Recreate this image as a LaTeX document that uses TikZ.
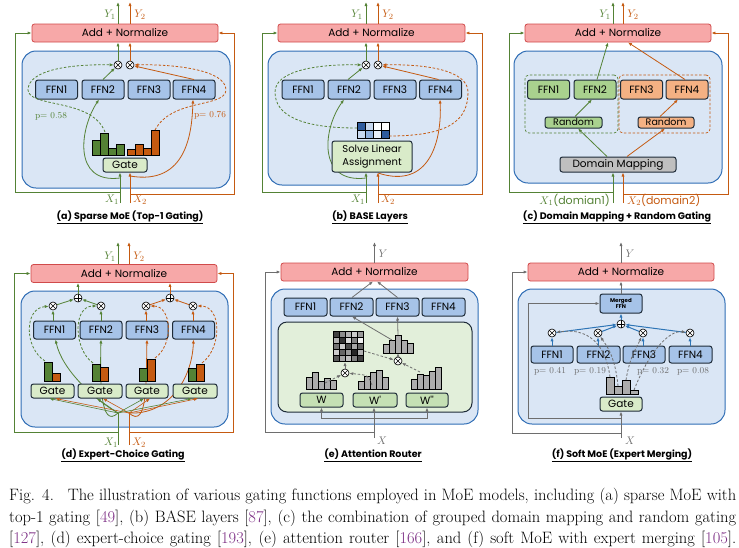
\documentclass[tikz,border=0pt]{standalone}
\usepackage{fontspec}
\newfontfamily\diafont{Poppins}
\usetikzlibrary{arrows.meta}
\definecolor{mgreen}{HTML}{548235}
\definecolor{morange}{HTML}{C55A11}
\definecolor{addpink}{HTML}{F7A8A8}
\definecolor{addred}{HTML}{D04A4A}
\definecolor{moefill}{HTML}{DAE6F5}
\definecolor{moeblue}{HTML}{2F6DB5}
\definecolor{ffnblue}{HTML}{A6C3E8}
\definecolor{boxedge}{HTML}{1E2B38}
\definecolor{gatefill}{HTML}{D9EBC9}
\definecolor{rndgreen}{HTML}{A9D18E}
\definecolor{rndorange}{HTML}{F4B183}
\definecolor{domgray}{HTML}{BFBFBF}
\definecolor{attfill}{HTML}{E2EFDA}
\definecolor{wfill}{HTML}{C5E0B4}
\definecolor{arrgray}{HTML}{6E6E6E}
\definecolor{mblue}{HTML}{2E75B6}
\definecolor{citepurple}{HTML}{7B2C83}
\definecolor{bgdark}{HTML}{2F5C9E}
\definecolor{bgmid}{HTML}{8FB0DC}
\definecolor{bglight}{HTML}{C8D9EF}
\tikzset{
  arr/.style={-{Latex[length=4pt,width=3.2pt]}, line width=0.8pt},
  darr/.style={arr, dash pattern=on 2.5pt off 1.8pt},
  garr/.style={arr, arrgray},
  gdarr/.style={darr, arrgray},
  barr/.style={arr, mblue, line width=1pt},
  addnorm/.style={draw=addred, fill=addpink, rounded corners=2.5pt, line width=0.8pt, minimum height=18, inner sep=0pt},
  moebox/.style={draw=moeblue, fill=moefill, rounded corners=14pt, line width=1pt, inner sep=0pt},
  attbox/.style={draw=boxedge, fill=attfill, rounded corners=9pt, line width=1pt, inner sep=0pt},
  grpbox/.style={dash pattern=on 2.5pt off 1.8pt, rounded corners=4pt, line width=0.7pt, inner sep=0pt},
  ffn/.style={draw=boxedge, fill=ffnblue, rounded corners=2.5pt, line width=1pt, minimum width=42, minimum height=19, inner sep=0pt},
  gatebox/.style={draw=boxedge, fill=gatefill, rounded corners=2.5pt, line width=1pt, minimum width=43, minimum height=14, inner sep=0pt},
  wbox/.style={gatebox, fill=wfill},
  prod/.style={circle, draw=black, fill=white, line width=0.6pt, minimum size=8, inner sep=0pt,
    path picture={\draw[line width=0.5pt] (path picture bounding box.north west) -- (path picture bounding box.south east)
      (path picture bounding box.north east) -- (path picture bounding box.south west);}},
  plus/.style={circle, draw=black, fill=white, line width=0.6pt, minimum size=8, inner sep=0pt,
    path picture={\draw[line width=0.5pt] (path picture bounding box.north) -- (path picture bounding box.south)
      (path picture bounding box.west) -- (path picture bounding box.east);}},
  bar/.style={draw=black, line width=0.6pt},
  lab/.style={font=\diafont\fontsize{11}{12}\selectfont, inner sep=0pt},
  plab/.style={font=\rmfamily\fontsize{9}{10}\selectfont, inner sep=0pt},
  title/.style={font=\diafont\bfseries\fontsize{9.5}{11}\selectfont},
  capt/.style={font=\rmfamily\fontsize{16.5}{20}\selectfont, anchor=base west, inner sep=0pt},
}
\newcommand{\refno}[1]{[\textcolor{citepurple}{#1}]}
\begin{document}
\begin{tikzpicture}[x=1pt,y=-1pt,font=\diafont\fontsize{10.5}{12}\selectfont]
\useasboundingbox (0,0) rectangle (739,547);

% (a) sparse MoE
\node[moebox, minimum width=208, minimum height=137] (amoe) at (126,119.5) {};
\node[addnorm, minimum width=186] (aadd) at (125,33) {Add + Normalize};
\node[ffn] (af1) at (56.5,89.5) {FFN1};
\node[ffn] (af2) at (103,89.5) {FFN2};
\node[ffn] (af3) at (149,89.5) {FFN3};
\node[ffn] (af4) at (194,89.5) {FFN4};
\node[prod] (am1) at (118,65) {};
\node[prod] (am2) at (130,65) {};
\draw[arr, mgreen] (120,178) .. controls (72,184) and (80,128) .. ([xshift=-4pt]af2.south);
\draw[arr, morange] (130,176) .. controls (188,186) and (192,130) .. ([xshift=-1pt]af4.south);
\node[gatebox, minimum width=44] (agate) at (125,165) {Gate};
\foreach \h [count=\i from 0] in {15,22,7,11}
  \draw[bar, fill=mgreen] ({92+8*\i},155) rectangle ++(8,-\h);
\foreach \h [count=\i from 0] in {6,11,7,25}
  \draw[bar, fill=morange] ({127+8*\i},155) rectangle ++(8,-\h);
\coordinate (ax1) at (120,203);
\coordinate (ax2) at (130,203);
\coordinate (ay1) at (118,2);
\coordinate (ay2) at (130,2);
\draw[arr, mgreen] (ax1) -- (ax1 |- agate.south);
\draw[arr, morange] (ax2) -- (ax2 |- agate.south);
\draw[arr, mgreen] (120,192) -- (15,192) |- (aadd.west);
\draw[arr, morange] (130,194) -- (234,194) |- (aadd.east);
\draw[arr, mgreen] (af2.north) -- (am1);
\draw[arr, morange] (af4.north) -- (am2);
\draw[arr, mgreen] (am1) -- (am1 |- aadd.south);
\draw[arr, morange] (am2) -- (am2 |- aadd.south);
\draw[arr, mgreen] (aadd.north -| ay1) -- (ay1);
\draw[arr, morange] (aadd.north -| ay2) -- (ay2);
\draw[darr, mgreen] (105,132) .. controls (92,98) and (29,108) .. (28,90) .. controls (28,70) and (70,64) .. (am1);
\draw[darr, morange] (155,130) .. controls (172,98) and (225,108) .. (226,90) .. controls (226,70) and (175,64) .. (am2);
\node[plab, mgreen] (ap1) at (51,116) {p= 0.58};
\node[plab, morange] (ap2) at (210,115) {p= 0.76};
\node[lab, mgreen] (ay1l) at (110,15) {$Y_1$};
\node[lab, morange] (ay2l) at (140,15) {$Y_2$};
\node[lab, mgreen] (ax1l) at (112,200) {$X_1$};
\node[lab, morange] (ax2l) at (140,200) {$X_2$};
\node[title] (atitle) at (130,217) {\underline{(a) Sparse MoE (Top-1 Gating)}};

% (b) BASE layers
\node[moebox, minimum width=209, minimum height=134] (bmoe) at (372.5,118) {};
\node[addnorm, minimum width=187] (badd) at (371.5,33) {Add + Normalize};
\node[ffn] (bf1) at (303,89.5) {FFN1};
\node[ffn] (bf2) at (349,89.5) {FFN2};
\node[ffn] (bf3) at (395,89.5) {FFN3};
\node[ffn] (bf4) at (440.5,89.5) {FFN4};
\node[prod] (bm1) at (366,65) {};
\node[prod] (bm2) at (378,65) {};
\draw[arr, mgreen] (366,178) .. controls (318,184) and (322,130) .. ([xshift=-5pt]bf2.south);
\draw[arr, morange] (378,173) .. controls (430,190) and (442,140) .. ([xshift=-0.5pt]bf4.south);
\node[gatebox, minimum width=80, minimum height=31, align=center, font=\diafont\fontsize{10}{12.5}\selectfont] (bsolve) at (372,156.5) {Solve Linear\\Assignment};
\foreach \c [count=\i from 0] in {bgdark,bglight,white,white}
  \draw[fill=\c, line width=0.4pt] ({357+8*\i},122) rectangle ++(8,8);
\foreach \c [count=\i from 0] in {bglight,bgmid,bglight!40,bgdark}
  \draw[fill=\c, line width=0.4pt] ({357+8*\i},130) rectangle ++(8,8);
\coordinate (bx1) at (366,203);
\coordinate (bx2) at (378,203);
\coordinate (by1) at (366,2);
\coordinate (by2) at (378,2);
\draw[arr, mgreen] (bx1) -- (bx1 |- bsolve.south);
\draw[arr, morange] (bx2) -- (bx2 |- bsolve.south);
\draw[arr, mgreen] (366,192) -- (262,192) |- (badd.west);
\draw[arr, morange] (378,194) -- (482,194) |- (badd.east);
\draw[arr, mgreen] ([xshift=-1pt]bf2.north) -- (bm1);
\draw[arr, morange] ([xshift=-2pt]bf4.north) -- (bm2);
\draw[arr, mgreen] (bm1) -- (bm1 |- badd.south);
\draw[arr, morange] (bm2) -- (bm2 |- badd.south);
\draw[arr, mgreen] (badd.north -| by1) -- (by1);
\draw[arr, morange] (badd.north -| by2) -- (by2);
\draw[darr, mgreen] (357,128) .. controls (300,128) and (275,115) .. (275,92) .. controls (275,70) and (320,64) .. (bm1);
\draw[darr, morange] (389,136) .. controls (450,136) and (468,120) .. (468,92) .. controls (468,70) and (425,64) .. (bm2);
\node[lab, mgreen] (by1l) at (357,15) {$Y_1$};
\node[lab, morange] (by2l) at (388,15) {$Y_2$};
\node[lab, mgreen] (bx1l) at (358,200) {$X_1$};
\node[lab, morange] (bx2l) at (388,200) {$X_2$};
\node[title] (btitle) at (370,217) {\underline{(b) BASE Layers}};

% (c) domain mapping
\node[moebox, minimum width=208, minimum height=132] (cmoe) at (618,117) {};
\node[addnorm, minimum width=186] (cadd) at (618,33) {Add + Normalize};
\node[grpbox, draw=mgreen, minimum width=93, minimum height=58] (cg1) at (571.5,104) {};
\node[grpbox, draw=morange, minimum width=91, minimum height=58] (cg2) at (664.5,104) {};
\node[ffn, fill=rndgreen] (cf1) at (548.5,89.5) {FFN1};
\node[ffn, fill=rndgreen] (cf2) at (595,89.5) {FFN2};
\node[ffn, fill=rndorange] (cf3) at (641.5,89.5) {FFN3};
\node[ffn, fill=rndorange] (cf4) at (687,89.5) {FFN4};
\node[gatebox, fill=rndgreen, minimum width=57, minimum height=11, font=\diafont\fontsize{9.5}{10}\selectfont] (cr1) at (573.5,122.5) {Random};
\node[gatebox, fill=rndorange, minimum width=56, minimum height=11, font=\diafont\fontsize{9.5}{10}\selectfont] (cr2) at (666,122.5) {Random};
\node[gatebox, fill=domgray, minimum width=116, minimum height=15] (cdom) at (618,164.5) {Domain Mapping};
\coordinate (cx1) at (613,203);
\coordinate (cx2) at (623,203);
\coordinate (cy1) at (613,2);
\coordinate (cy2) at (623,2);
\draw[arr, mgreen] (cx1) -- (cx1 |- cdom.south);
\draw[arr, morange] (cx2) -- (cx2 |- cdom.south);
\draw[arr, mgreen] (613,192) -- (509,192) |- (cadd.west);
\draw[arr, morange] (623,194) -- (728,194) |- (cadd.east);
\draw[arr, mgreen] ([xshift=-11pt]cdom.north) -- ([xshift=4.5pt]cr1.south);
\draw[arr, morange] ([xshift=9pt]cdom.north) -- ([xshift=-1pt]cr2.south);
\draw[arr, mgreen] ([xshift=1.5pt]cr1.north) -- ([xshift=-3pt]cf2.south);
\draw[arr, morange] ([xshift=-6pt]cr2.north) -- ([xshift=-9pt]cf4.south);
\draw[arr, mgreen] ([xshift=2pt]cf2.north) -- ([xshift=-10pt]cadd.south);
\draw[arr, morange] ([xshift=-2pt]cf4.north) -- ([xshift=10pt]cadd.south);
\draw[arr, mgreen] (cadd.north -| cy1) -- (cy1);
\draw[arr, morange] (cadd.north -| cy2) -- (cy2);
\node[lab, mgreen] (cy1l) at (605,15) {$Y_1$};
\node[lab, morange] (cy2l) at (633,15) {$Y_2$};
\node[lab, mgreen, anchor=east] (cx1l) at (610,200) {$X_1$(domian1)};
\node[lab, morange, anchor=west] (cx2l) at (627,200) {$X_2$(domain2)};
\node[title] (ctitle) at (617,217) {\underline{(c) Domain Mapping + Random Gating}};

% (d) expert-choice gating
\node[moebox, minimum width=207, minimum height=136] (dmoe) at (124.5,359) {};
\node[addnorm, minimum width=186] (dadd) at (124,273.5) {Add + Normalize};
\node[ffn, minimum height=18] (df1) at (54.5,330) {FFN1};
\node[ffn, minimum height=18] (df2) at (101,330) {FFN2};
\node[ffn, minimum height=18] (df3) at (147,330) {FFN3};
\node[ffn, minimum height=18] (df4) at (193.5,330) {FFN4};
\node[plus] (ds1) at (78,298) {};
\node[plus] (ds2) at (170,298) {};
\node[prod] (dm1) at (53,306) {};
\node[prod] (dm2) at (101,306) {};
\node[prod] (dm3) at (146,306) {};
\node[prod] (dm4) at (193,306) {};
\coordinate (dc1) at (118,413);
\coordinate (dc2) at (129,413);
\draw[arr, mgreen] (dc1) .. controls (95,400) and (62,370) .. ([xshift=1pt]df1.south);
\draw[arr, mgreen] (dc1) .. controls (100,430) and (100,380) .. (df2.south);
\draw[arr, morange] (dc2) .. controls (148,430) and (146,380) .. (df3.south);
\draw[arr, morange] (dc2) .. controls (168,415) and (192,380) .. (df4.south);
\node[gatebox] (dg1) at (52.5,391) {Gate};
\node[gatebox, minimum width=44] (dg2) at (100,391) {Gate};
\node[gatebox, minimum width=42] (dg3) at (147,391) {Gate};
\node[gatebox, minimum width=44] (dg4) at (195,391) {Gate};
\foreach \x/\g/\o in {44/19/8, 92/17/14, 139/13/22, 188/13/17} {
  \draw[bar, fill=mgreen] (\x,381) rectangle ++(8,-\g);
  \draw[bar, fill=morange] ({\x+8},381) rectangle ++(8,-\o);
}
\foreach \g in {dg1,dg2,dg3,dg4} {
  \draw[arr, mgreen, line width=0.6pt] (dc1) -- ([xshift=-3pt]\g.south);
  \draw[arr, morange, line width=0.6pt] (dc2) -- ([xshift=3pt]\g.south);
}
\coordinate (dx1) at (118,445);
\coordinate (dx2) at (129,445);
\coordinate (dy1) at (118,242);
\coordinate (dy2) at (129,242);
\draw[mgreen, line width=0.8pt] (dx1) -- (dc1);
\draw[morange, line width=0.8pt] (dx2) -- (dc2);
\draw[arr, mgreen] (118,432) -- (14,432) |- (dadd.west);
\draw[arr, morange] (129,432) -- (233,432) |- (dadd.east);
\draw[arr, mgreen] (dm1 |- df1.north) -- (dm1);
\draw[arr, mgreen] (dm2 |- df2.north) -- (dm2);
\draw[arr, morange] (dm3 |- df3.north) -- (dm3);
\draw[arr, morange] (dm4 |- df4.north) -- (dm4);
\draw[arr, mgreen] (dm1) -- (ds1);
\draw[arr, mgreen] (dm2) -- (ds1);
\draw[arr, morange] (dm3) -- (ds2);
\draw[arr, morange] (dm4) -- (ds2);
\draw[arr, mgreen] (ds1) -- (ds1 |- dadd.south);
\draw[arr, morange] (ds2) -- (ds2 |- dadd.south);
\draw[arr, mgreen] (dadd.north -| dy1) -- (dy1);
\draw[arr, morange] (dadd.north -| dy2) -- (dy2);
\draw[darr, mgreen] (45,361) .. controls (24,348) and (24,308) .. (dm1);
\draw[darr, mgreen] (93,363) .. controls (74,350) and (72,306) .. (dm2);
\draw[darr, morange] (155,358) .. controls (174,345) and (172,306) .. (dm3);
\draw[darr, morange] (202,363) .. controls (222,348) and (222,306) .. (dm4);
\node[lab, mgreen] (dy1l) at (110,257) {$Y_1$};
\node[lab, morange] (dy2l) at (139,257) {$Y_2$};
\node[lab, mgreen] (dx1l) at (111,443) {$X_1$};
\node[lab, morange] (dx2l) at (139,443) {$X_2$};
\node[title] (dtitle) at (123,455) {\underline{(d) Expert-Choice Gating}};

% (e) attention router
\node[moebox, minimum width=207, minimum height=135] (emoe) at (374.5,356.5) {};
\node[addnorm, minimum width=187] (eadd) at (374.5,272) {Add + Normalize};
\node[ffn, minimum height=18, minimum width=43] (ef1) at (305.5,307) {FFN1};
\node[ffn, minimum height=18, minimum width=43] (ef2) at (351.5,307) {FFN2};
\node[ffn, minimum height=18, minimum width=43] (ef3) at (397.5,307) {FFN3};
\node[ffn, minimum height=18, minimum width=43] (ef4) at (443.5,307) {FFN4};
\node[attbox, minimum width=194, minimum height=90] (eatt) at (375,367) {};
\foreach \g [count=\i from 0] in {75,45,30,20,40, 30,80,15,50,5, 55,20,70,35,60, 20,60,40,85,30, 65,35,25,50,75} {
  \pgfmathtruncatemacro\col{mod(\i,5)}
  \pgfmathtruncatemacro\row{int(\i/5)}
  \draw[fill=black!\g, line width=0.4pt] ({333+6*\col},{331+6*\row}) rectangle ++(6,6);
}
\foreach \h [count=\i from 0] in {9,13,18,13,10}
  \draw[bar, fill=gray!65] ({383+6*\i},353) rectangle ++(6,-\h);
\foreach \h [count=\i from 0] in {12,17,8,11,9}
  \draw[bar, fill=gray!65] ({306+6*\i},389) rectangle ++(6,-\h);
\foreach \h [count=\i from 0] in {8,13,17,19,12}
  \draw[bar, fill=gray!65] ({358+6*\i},389) rectangle ++(6,-\h);
\foreach \h [count=\i from 0] in {10,15,14,18,22}
  \draw[bar, fill=gray!65] ({411+6*\i},389) rectangle ++(6,-\h);
\node[prod] (em1) at (345,373) {};
\node[prod] (em2) at (398,361) {};
\node[wbox] (ew1) at (321.5,400) {W};
\node[wbox, minimum width=44] (ew2) at (375,400) {W'};
\node[wbox, minimum width=42] (ew3) at (427,400) {W''};
\coordinate (ex) at (374,438);
\coordinate (ey) at (374.5,242);
\coordinate (ehist) at (398,353);
\coordinate (egrid) at (345,362);
\draw[garr] (ex) -- (ex |- ew2.south);
\draw[garr] (374,418) -| (ew1.south);
\draw[garr] (374,418) -| (ew3.south);
\draw[garr] (374,432) -- (265,432) |- (eadd.west);
\draw[garr] (eadd.north) -- (ey);
\draw[garr] ([xshift=0.5pt]ef2.north) -- ([xshift=-1.5pt]eadd.south);
\draw[garr] (ef3.north) -- ([xshift=2.5pt]eadd.south);
\draw[garr] (392,340) -- ([xshift=0.5pt]ef2.south);
\draw[garr] (398,335) -- (ef3.south);
\draw[garr] (em2) -- (ehist);
\draw[garr] (em1) -- (egrid);
\draw[gdarr] (364,351) -- (em2);
\draw[gdarr] (325,383) -- (em1);
\draw[gdarr] (372,385) .. controls (368,375) .. (em1);
\draw[gdarr] (420,372) -- (em2);
\node[lab, arrgray] (eyl) at (383,254) {$Y$};
\node[lab, arrgray] (exl) at (382,441) {$X$};
\node[title] (etitle) at (373,455) {\underline{(e) Attention Router}};

% (f) soft MoE
\node[moebox, minimum width=207, minimum height=135] (fmoe) at (621.5,356.5) {};
\node[addnorm, minimum width=186] (fadd) at (621,272) {Add + Normalize};
\node[ffn, minimum height=19, align=center, font=\diafont\bfseries\fontsize{5.5}{6.5}\selectfont] (fmrg) at (621,303.5) {Merged\\FFN};
\node[plus] (fs) at (621,324) {};
\node[prod] (fm1) at (552,333) {};
\node[prod] (fm2) at (598,333) {};
\node[prod] (fm3) at (643,333) {};
\node[prod] (fm4) at (690,333) {};
\node[ffn, minimum height=17] (ff1) at (552,354.5) {FFN1};
\node[ffn, minimum height=17, minimum width=43] (ff2) at (598.5,354.5) {FFN2};
\node[ffn, minimum height=17] (ff3) at (644,354.5) {FFN3};
\node[ffn, minimum height=17, minimum width=43] (ff4) at (690.5,354.5) {FFN4};
\node[plab, arrgray] (fp1) at (550,371) {p= 0.41};
\node[plab, arrgray] (fp2) at (590,371) {p= 0.19};
\node[plab, arrgray] (fp3) at (653,371) {p= 0.32};
\node[plab, arrgray] (fp4) at (693,371) {p= 0.08};
\foreach \h [count=\i from 0] in {17,8,14,4}
  \draw[bar, fill=gray!65] ({606+8*\i},394) rectangle ++(8,-\h);
\node[gatebox, minimum width=42] (fgate) at (621,404) {Gate};
\coordinate (fx) at (621,438);
\coordinate (fy) at (621,242);
\draw[garr] (fx) -- (fgate.south);
\draw[garr] (621,418) -- (528,418) |- (fmrg.west);
\draw[garr] (621,433) -- (512,433) |- (fadd.west);
\draw[garr] (fmrg.north) -- (fadd.south);
\draw[garr] (fadd.north) -- (fy);
\foreach \i in {1,...,4} {
  \draw[barr] (fm\i |- ff\i.north) -- (fm\i);
  \draw[barr] (fm\i) -- (fs);
}
\draw[barr] (fs) -- (fmrg.south);
\draw[gdarr] (610,377) .. controls (605,340) and (585,328) .. (fm1);
\draw[gdarr] (618,386) .. controls (615,355) and (606,345) .. (fm2);
\draw[gdarr] (626,380) .. controls (630,355) and (638,345) .. (fm3);
\draw[gdarr] (634,390) .. controls (652,345) and (672,330) .. (fm4);
\node[lab, arrgray] (fyl) at (630,254) {$Y$};
\node[lab, arrgray] (fxl) at (630,441) {$X$};
\node[title] (ftitle) at (622,455) {\underline{(f) Soft MoE (Expert Merging)}};

% caption
\node[capt] (cap1) at (9,500) {\makebox[727pt][s]{Fig. 4.\hspace{0.4em} The illustration of various gating functions employed in MoE models, including (a) sparse MoE with}};
\node[capt] (cap2) at (9,522) {\makebox[727pt][s]{top-1 gating \refno{49}, (b) BASE layers \refno{87}, (c) the combination of grouped domain mapping and random gating}};
\node[capt] (cap3) at (9,543) {\makebox[727pt][s]{\refno{127}, (d) expert-choice gating \refno{193}, (e) attention router \refno{166}, and (f) soft MoE with expert merging \refno{105}.}};
\end{tikzpicture}
\end{document}
